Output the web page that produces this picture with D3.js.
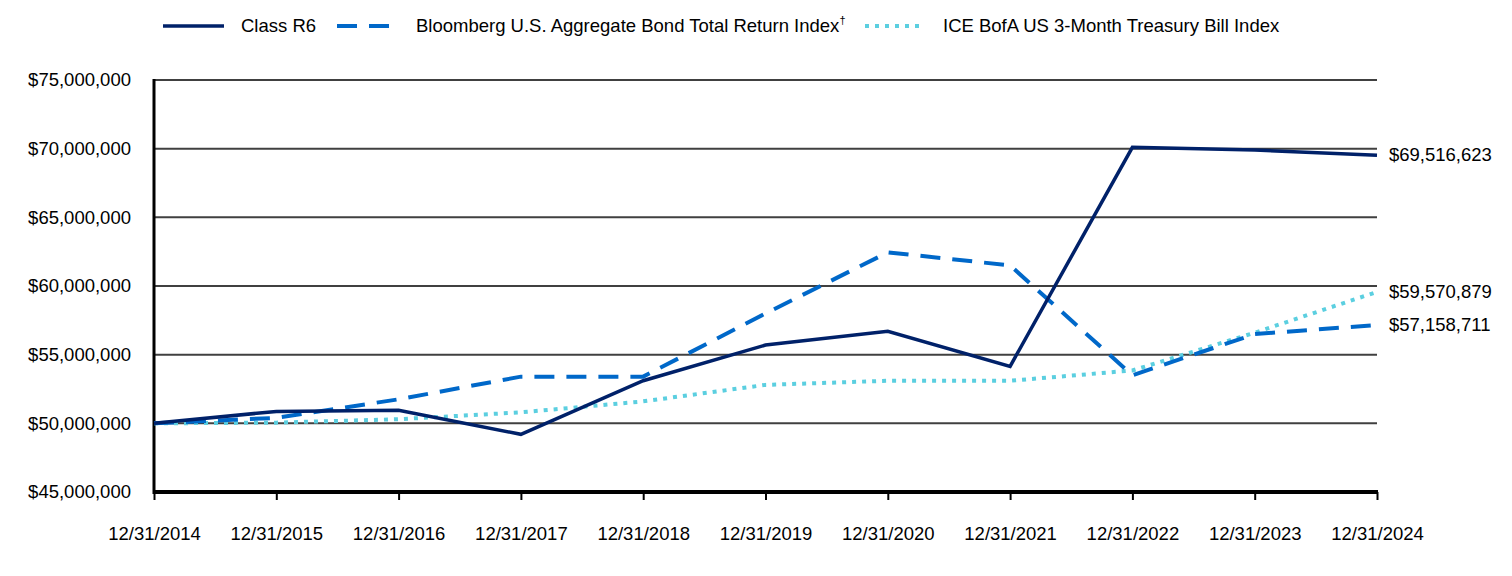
<!DOCTYPE html>
<html><head><meta charset="utf-8">
<script src="https://cdn.jsdelivr.net/npm/d3@7"></script>
<style>
body{margin:0;background:#fff;}
text{font-family:"Liberation Sans",Arial,sans-serif;fill:#000;}
</style></head>
<body>
<svg id="chart" width="1512" height="576"></svg>
<script>
const dates = ["12/31/2014","12/31/2015","12/31/2016","12/31/2017","12/31/2018","12/31/2019","12/31/2020","12/31/2021","12/31/2022","12/31/2023","12/31/2024"];
const classR6 = [50000000,50870000,50950000,49200000,53100000,55700000,56700000,54150000,70100000,69900000,69516623];
const bloomberg = [50000000,50400000,51750000,53400000,53400000,58000000,62450000,61500000,53500000,56500000,57158711];
const iceBofa = [50000000,50050000,50300000,50800000,51600000,52800000,53100000,53100000,53850000,56600000,59570879];
const yTicks = [45000000,50000000,55000000,60000000,65000000,70000000,75000000];
const seriesNames = ["Class R6","Bloomberg U.S. Aggregate Bond Total Return Index","ICE BofA US 3-Month Treasury Bill Index"];
const endLabels = ["$69,516,623","$57,158,711","$59,570,879"];

const FS = 18.5;
const svg = d3.select("#chart");
const L=154, R=1377, T=80, B=492;
const x = d3.scalePoint().domain(dates).range([L,R]);
const y = d3.scaleLinear().domain([45000000,75000000]).range([B,T]);
const fmt = d3.format("$,.0f");

// gridlines
svg.append("g").selectAll("line").data(yTicks.slice(1)).join("line")
  .attr("x1",L).attr("x2",R).attr("y1",d=>y(d)).attr("y2",d=>y(d))
  .attr("stroke","#404040").attr("stroke-width",2);

// y labels
svg.append("g").selectAll("text").data(yTicks).join("text")
  .attr("x",131).attr("y",d=>y(d)).attr("dy","0.35em").attr("text-anchor","end")
  .attr("font-size",FS).text(d=>fmt(d));

// x axis
const xAxis = svg.append("g").attr("transform",`translate(0,${B})`)
  .call(d3.axisBottom(x).tickSize(8).tickPadding(27).tickSizeOuter(0));
xAxis.select(".domain").remove();
xAxis.selectAll(".tick line").attr("stroke","#000").attr("stroke-width",2);
xAxis.selectAll(".tick text").attr("font-size",FS).attr("font-family","Liberation Sans, Arial, sans-serif").attr("fill","#000");

svg.append("line").attr("x1",L).attr("x2",R+1).attr("y1",B).attr("y2",B).attr("stroke","#000").attr("stroke-width",4);
svg.append("line").attr("x1",L).attr("x2",L).attr("y1",T-1).attr("y2",B+2).attr("stroke","#000").attr("stroke-width",3);

const line = d3.line().x((d,i)=>x(dates[i])).y(d=>y(d));
const styles = [
  {data:classR6,color:"#002169",w:3.5,dash:null},
  {data:bloomberg,color:"#0068C9",w:4,dash:"20,12"},
  {data:iceBofa,color:"#5BCFE0",w:4,dash:"4,6"}
];
[styles[2],styles[1],styles[0]].forEach(s=>{
  svg.append("path").attr("d",line(s.data)).attr("fill","none")
    .attr("stroke",s.color).attr("stroke-width",s.w)
    .attr("stroke-dasharray",s.dash);
});

// end labels
const endY=[155,325,292];
endLabels.forEach((t,i)=>{
  svg.append("text").attr("x",1389).attr("y",endY[i]).attr("dy","0.35em")
    .attr("font-size",FS).text(t);
});

// legend
const lg = svg.append("g");
const legendItems=[
  {x1:163,x2:224,tx:241,s:styles[0]},
  {x1:337,x2:393,tx:416,s:styles[1]},
  {x1:865,x2:921,tx:943,s:styles[2]}
];
legendItems.forEach((it,i)=>{
  lg.append("line").attr("x1",it.x1).attr("x2",it.x2).attr("y1",26).attr("y2",26)
    .attr("stroke",it.s.color).attr("stroke-width",it.s.w)
    .attr("stroke-dasharray",it.s.dash);
  const t=lg.append("text").attr("x",it.tx).attr("y",26).attr("dy","0.35em").attr("font-size",FS).text(seriesNames[i]);
  if(i===1) t.append("tspan").attr("font-size",11).attr("dy","-0.8em").text("†");
});
</script>
</body></html>
